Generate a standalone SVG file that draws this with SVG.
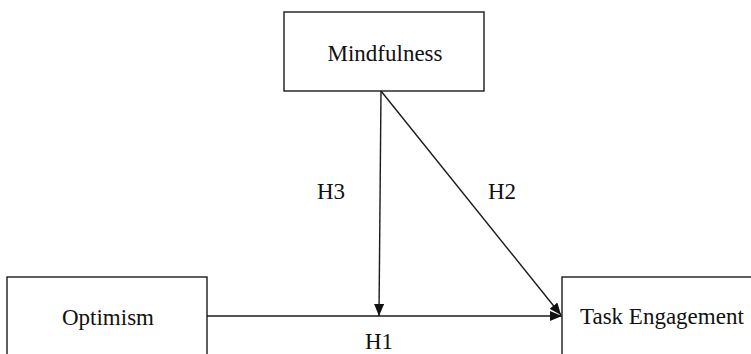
<svg xmlns="http://www.w3.org/2000/svg" width="751" height="354" viewBox="0 0 751 354">
<style>
.box{fill:#fff;stroke:#1a1a1a;stroke-width:1.4}
.lbl{font-family:"Liberation Serif","Times New Roman",serif;font-size:23px;fill:#111}
.conn{stroke:#1a1a1a;stroke-width:1.4;fill:none}
</style>
<defs>
<marker id="ah" viewBox="0 0 12 10" refX="12" refY="5" markerWidth="12" markerHeight="10" markerUnits="userSpaceOnUse" orient="auto">
<path d="M0,0 L12,5 L0,10 Z" fill="#111"/>
</marker>
</defs>
<rect width="751" height="354" fill="#fff"/>
<g id="mindfulness">
<rect class="box" x="284" y="12" width="200" height="79"/>
<text class="lbl" x="385" y="61" text-anchor="middle">Mindfulness</text>
</g>
<g id="optimism">
<rect class="box" x="7" y="277" width="200" height="90"/>
<text class="lbl" x="108" y="325" text-anchor="middle">Optimism</text>
</g>
<g id="task-engagement">
<rect class="box" x="562" y="277" width="200" height="90"/>
<text class="lbl" x="580" y="324">Task Engagement</text>
</g>
<g id="connectors">
<line class="conn" x1="207" y1="316" x2="562" y2="316" marker-end="url(#ah)"/>
<line class="conn" x1="381" y1="91" x2="379" y2="316" marker-end="url(#ah)"/>
<line class="conn" x1="381" y1="91" x2="561" y2="315" marker-end="url(#ah)"/>
<text class="lbl" x="317" y="199">H3</text>
<text class="lbl" x="488" y="199">H2</text>
<text class="lbl" x="365" y="349">H1</text>
</g>
</svg>
